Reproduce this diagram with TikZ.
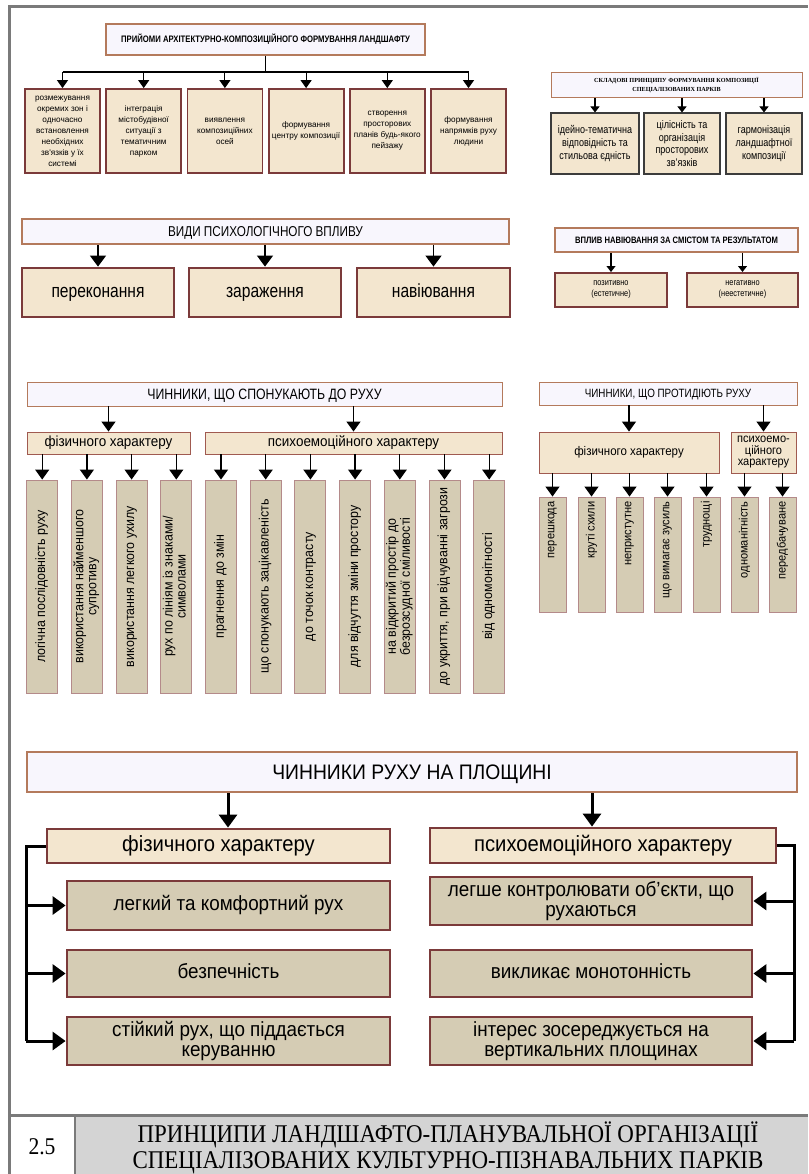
\documentclass[tikz,border=0pt]{standalone}
\usepackage{fontspec}
\usepackage{graphicx}
\usepackage{tikz}
\usetikzlibrary{arrows.meta}
\setmainfont{Liberation Sans}[FakeStretch=0.82]
\newfontfamily\midsans{Liberation Sans}[FakeStretch=0.92]
\newfontfamily\plainsans{Liberation Sans}
\newfontfamily\serifrm{Liberation Serif}
\newfontfamily\serifnarrow{Liberation Serif}[FakeStretch=0.9]
\definecolor{lilac}{HTML}{F8F6FD}
\definecolor{rust}{HTML}{B47A5C}
\definecolor{cream}{HTML}{F3E6CF}
\definecolor{wine}{HTML}{7B3A3A}
\definecolor{khaki}{HTML}{D5CCB4}
\definecolor{rose}{HTML}{B48A8A}
\definecolor{clay}{HTML}{A05A50}
\definecolor{slate}{HTML}{3C3C3C}
\definecolor{framegray}{HTML}{7A7A7A}
\definecolor{plate}{HTML}{D4D4D4}
\newcommand{\fs}[2]{\fontsize{#1}{#2}\selectfont}
\newcommand{\cornerbox}[7]{\node[#2,minimum width={#5-#3},minimum height={#6-#4}] (#1) at ({(#3+#5)/2},{(#4+#6)/2}) {#7};}
\newcommand{\upright}[1]{\rotatebox{90}{\begin{tabular}{@{}c@{}}#1\end{tabular}}}
\newcommand{\uptop}[1]{\rotatebox{90}{\makebox[106pt][r]{#1}}}

\begin{document}
\begin{tikzpicture}[x=1pt,y=-1pt,
  lead/.style={draw=rust,fill=lilac,line width=#1,inner sep=1pt,align=center},
  lead/.default=1.2pt,
  tile/.style={draw=wine,fill=cream,line width=#1,inner sep=1pt,align=center},
  tile/.default=1.8pt,
  pane/.style={draw=slate,fill=cream,line width=1.1pt,inner sep=1pt,align=center},
  band/.style={draw=clay,fill=cream,line width=0.9pt,inner sep=1pt,align=center},
  stone/.style={draw=rose,fill=khaki,line width=0.9pt,inner sep=1pt},
  slab/.style={draw=wine,fill=khaki,line width=2.8pt,inner sep=1pt,align=center},
  even/.style={text height=0.72*#1,text depth=0.2*#1},
  caps/.style={text height=0.72*#1,text depth=0pt},
  pointer/.style n args={3}{line width=#1,-{Triangle[width=#2,length=#3]}}]
\useasboundingbox (0,0) rectangle (808,1174);
\draw[framegray,line width=3pt] (9.5,1174) -- (9.5,6.5) -- (808,6.5);
\fill[plate] (75,1117) rectangle (808,1174);
\draw[framegray,line width=3pt] (9.5,1115.5) -- (808,1115.5);
\draw[framegray,line width=2pt] (75,1117) -- (75,1174);
\node[font=\serifnarrow\fs{24}{26}] (num) at (42,1147) {2.5};
\node[font=\serifnarrow\fs{25.5}{26},align=center] (caption) at (448,1148) {ПРИНЦИПИ ЛАНДШАФТО-ПЛАНУВАЛЬНОЇ ОРГАНІЗАЦІЇ\\СПЕЦІАЛІЗОВАНИХ КУЛЬТУРНО-ПІЗНАВАЛЬНИХ ПАРКІВ};

\cornerbox{t1}{lead,caps=9.4pt,font=\bfseries\fs{9.4}{10}}{106}{24}{425}{55}{ПРИЙОМИ АРХІТЕКТУРНО-КОМПОЗИЦІЙНОГО ФОРМУВАННЯ ЛАНДШАФТУ}
\coordinate (bus) at (0,72);
\draw[line width=1.1pt] (t1.south) -- (t1.south |- bus);
\foreach \i/\t in {1/{розмежування\\окремих зон і\\одночасно\\встановлення\\необхідних\\зв'язків у їх\\системі},
  2/{інтеграція\\містобудівної\\ситуації з\\тематичним\\парком},
  3/{виявлення\\композиційних\\осей},
  4/{формування\\центру композиції},
  5/{створення\\просторових\\планів будь-якого\\пейзажу},
  6/{формування\\напрямків руху\\людини}}{
  \pgfmathsetmacro\xl{25+81.2*(\i-1)}
  \cornerbox{p\i}{tile,font=\plainsans\fs{8.2}{11}}{\xl}{89}{\xl+75}{173}{\t}
  \draw[pointer={1.1pt}{11pt}{8pt}] (p\i.north |- bus) -- (p\i.north);
}
\draw[line width=1.1pt] (p1.north |- bus) -- (p6.north |- bus);

\cornerbox{s0}{lead=1pt,font=\serifrm\bfseries\fs{6.2}{9}}{551}{73}{802}{98}{СКЛАДОВІ ПРИНЦИПУ ФОРМУВАННЯ КОМПОЗИЦІЇ\\СПЕЦІАЛІЗОВАНИХ ПАРКІВ}
\cornerbox{s1}{pane,font=\fs{11}{13}}{551}{113}{639}{174}{ідейно-тематична\\відповідність та\\стильова єдність}
\cornerbox{s2}{pane,font=\fs{11}{12.7}}{644}{113}{720}{174}{цілісність та\\організація\\просторових\\зв'язків}
\cornerbox{s3}{pane,font=\fs{11}{13}}{726}{113}{802}{174}{гармонізація\\ландшафтної\\композиції}
\foreach \i in {1,2,3}
  \draw[pointer={1.1pt}{9pt}{6pt}] (s\i.north |- s0.south) -- (s\i.north);

\cornerbox{v0}{lead=2.5pt,caps=14.3pt,font=\fs{14.3}{15}}{22}{219}{509}{244}{ВИДИ ПСИХОЛОГІЧНОГО ВПЛИВУ}
\cornerbox{v1}{tile=2.8pt,even=19pt,font=\fs{19}{20}}{22}{268}{174}{317}{переконання}
\cornerbox{v2}{tile=2.8pt,even=19pt,font=\fs{19}{20}}{189}{268}{341}{317}{зараження}
\cornerbox{v3}{tile=2.8pt,even=19pt,font=\fs{19}{20}}{357}{268}{510}{317}{навіювання}
\foreach \i in {1,2,3}
  \draw[pointer={1.3pt}{16pt}{11pt}] (v\i.north |- v0.south) -- (v\i.north);

\cornerbox{n0}{lead=1.5pt,caps=9.3pt,font=\bfseries\fs{9.3}{10}}{555}{228}{798}{252}{ВПЛИВ НАВІЮВАННЯ ЗА СМІСТОМ ТА РЕЗУЛЬТАТОМ}
\cornerbox{n1}{tile=2pt,font=\fs{9}{11}}{555}{273}{667}{307}{позитивно\\(естетичне)}
\cornerbox{n2}{tile=2pt,font=\fs{9}{11}}{687}{273}{798}{307}{негативно\\(неестетичне)}
\foreach \i in {1,2}
  \draw[pointer={1.1pt}{9pt}{6pt}] (n\i.north |- n0.south) -- (n\i.north);

\cornerbox{c0}{lead=0.9pt,caps=15pt,font=\fs{15}{16}}{27}{382}{502}{406}{ЧИННИКИ, ЩО СПОНУКАЮТЬ ДО РУХУ}
\cornerbox{c1}{band,even=14.6pt,font=\midsans\fs{14.6}{15}}{27}{432}{190}{454}{фізичного характеру}
\cornerbox{c2}{band,even=14.6pt,font=\midsans\fs{14.6}{15}}{205}{432}{502}{454}{психоемоційного характеру}
\foreach \i in {1,2}
  \draw[pointer={1.3pt}{14pt}{10pt}] (c\i.north |- c0.south) -- (c\i.north);
\foreach \i/\t in {1/{логічна послідовність руху},
  2/{використання найменшого\\супротиву},
  3/{використання легкого ухилу},
  4/{рух по лініям із знаками/\\символами},
  5/{прагнення до змін},
  6/{що спонукають зацікавленість},
  7/{до точок контрасту},
  8/{для відчуття зміни простору},
  9/{на відкритий простір до\\безрозсудної сміливості},
  10/{до укриття, при відчуванні загрози},
  11/{від одномонітності}}{
  \pgfmathsetmacro\xl{26.7+44.7*(\i-1)}
  \cornerbox{w\i}{stone,font=\midsans\fs{13.5}{13}}{\xl}{480}{\xl+31}{693}{\upright{\t}}
}
\foreach \i in {1,...,4}
  \draw[pointer={1.3pt}{14pt}{10pt}] (w\i.north |- c1.south) -- (w\i.north);
\foreach \i in {5,...,11}
  \draw[pointer={1.3pt}{14pt}{10pt}] (w\i.north |- c2.south) -- (w\i.north);

\cornerbox{d0}{lead=0.9pt,caps=12pt,font=\fs{12}{12}}{539}{382}{797}{405}{ЧИННИКИ, ЩО ПРОТИДІЮТЬ РУХУ}
\cornerbox{d1}{band,even=12.5pt,font=\midsans\fs{12.5}{13}}{539}{432}{719}{473}{фізичного характеру}
\cornerbox{d2}{band,font=\midsans\fs{12}{11.5}}{731}{432}{796}{473}{психоемо-\\ційного\\характеру}
\foreach \i in {1,2}
  \draw[pointer={1.3pt}{14pt}{10pt}] (d\i.north |- d0.south) -- (d\i.north);
\foreach \i/\xl/\t in {1/539/перешкода,2/578/круті схили,3/616/непристутне,4/654/що вимагає зусиль,
  5/693/труднощі,6/731/одноманітність,7/769/передбачуване}{
  \cornerbox{e\i}{stone,font=\midsans\fs{12}{12}}{\xl}{497}{\xl+27}{612}{\uptop{\t}}
}
\foreach \i in {1,...,5}
  \draw[pointer={1.3pt}{14pt}{10pt}] (e\i.north |- d1.south) -- (e\i.north);
\foreach \i in {6,7}
  \draw[pointer={1.3pt}{14pt}{10pt}] (e\i.north |- d2.south) -- (e\i.north);

\cornerbox{g0}{lead=2.8pt,caps=21pt,font=\midsans\fs{21}{24}}{27}{752}{797}{792}{ЧИННИКИ РУХУ НА ПЛОЩИНІ}
\cornerbox{g1}{tile=2.8pt,even=22pt,font=\midsans\fs{22}{24}}{47}{829}{390}{863}{фізичного характеру}
\cornerbox{g2}{tile=2.8pt,even=22pt,font=\midsans\fs{22}{24}}{430}{828}{776}{863}{психоемоційного характеру}
\coordinate (dropl) at (228,0);
\coordinate (dropr) at (592,0);
\draw[pointer={3pt}{18pt}{13pt}] (g0.south -| dropl) -- (g1.north -| dropl);
\draw[pointer={3pt}{18pt}{13pt}] (g0.south -| dropr) -- (g2.north -| dropr);
\cornerbox{L1}{slab,even=20.5pt,font=\midsans\fs{20.5}{20}}{67}{881}{390}{930}{легкий та комфортний рух}
\cornerbox{L2}{slab,even=20.5pt,font=\midsans\fs{20.5}{20}}{67}{950}{390}{997}{безпечність}
\cornerbox{L3}{slab,font=\midsans\fs{20.5}{20}}{67}{1017}{390}{1065}{стійкий рух, що піддається\\керуванню}
\cornerbox{R1}{slab,font=\midsans\fs{20.5}{20}}{430}{877}{752}{925}{легше контролювати об’єкти, що\\рухаються}
\cornerbox{R2}{slab,even=20.5pt,font=\midsans\fs{20.5}{20}}{430}{950}{752}{997}{викликає монотонність}
\cornerbox{R3}{slab,font=\midsans\fs{20.5}{20}}{430}{1017}{752}{1065}{інтерес зосереджується на\\вертикальних площинах}
\coordinate (lbus) at (26,0);
\coordinate (rbus) at (794,0);
\draw[line width=3pt] (g1.west) -- (g1.west -| lbus) -- (L3.west -| lbus);
\draw[line width=3pt] (g2.east) -- (g2.east -| rbus) -- (R3.east -| rbus);
\foreach \i in {1,2,3}{
  \draw[pointer={3pt}{18pt}{13pt}] (L\i.west -| lbus) -- (L\i.west);
  \draw[pointer={3pt}{18pt}{13pt}] (R\i.east -| rbus) -- (R\i.east);
}
\end{tikzpicture}
\end{document}
